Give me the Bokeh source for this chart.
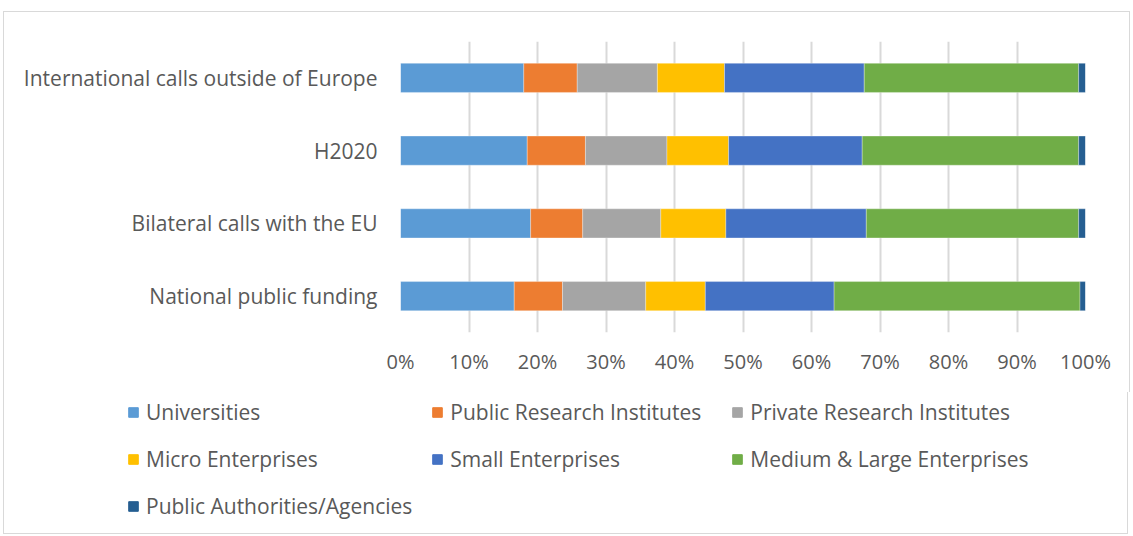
from bokeh.plotting import figure
from bokeh.models import ColumnDataSource, FactorRange, Range1d, Legend, LegendItem, FixedTicker
from bokeh.embed import file_html
from bokeh.resources import INLINE

categories = ["National public funding", "Bilateral calls with the EU", "H2020",
              "International calls outside of Europe"]
series_names = ["Universities", "Public Research Institutes", "Private Research Institutes",
                "Micro Enterprises", "Small Enterprises", "Medium & Large Enterprises",
                "Public Authorities/Agencies"]
universities = [16.6, 19.0, 18.5, 18.0]
public_research = [7.05, 7.6, 8.5, 7.8]
private_research = [12.15, 11.4, 11.9, 11.7]
micro = [8.7, 9.5, 9.0, 9.8]
small = [18.8, 20.5, 19.5, 20.4]
medium_large = [35.9, 31.0, 31.6, 31.3]
public_authorities = [0.8, 1.0, 1.0, 1.0]
tick_values = [0, 10, 20, 30, 40, 50, 60, 70, 80, 90, 100]
tick_labels = ["0%", "10%", "20%", "30%", "40%", "50%", "60%", "70%", "80%", "90%", "100%"]

colors = ["#5B9BD5", "#ED7D31", "#A5A5A5", "#FFC000", "#4472C4", "#70AD47", "#255E91"]
keys = ["u", "pr", "pv", "mi", "sm", "ml", "pa"]
data = dict(cat=categories, u=universities, pr=public_research, pv=private_research,
            mi=micro, sm=small, ml=medium_large, pa=public_authorities)
source = ColumnDataSource(data)

FONT = "Open Sans"
TXT = "#595959"
BORDER = "1px solid #d9d9d9"

p = figure(width=1125, height=380, y_range=FactorRange(factors=categories),
           x_range=Range1d(0, 100), output_backend="svg", toolbar_location=None,
           min_border_left=396, min_border_top=29, min_border_right=44, min_border_bottom=60,
           frame_width=685, frame_height=291)
p.outline_line_color = None
p.styles = {"border-left": BORDER, "border-right": BORDER, "border-top": BORDER,
            "margin-left": "3px", "margin-top": "11px"}

rs = p.hbar_stack(keys, y="cat", height=0.4, color=colors, source=source,
                  line_color="white", line_width=0.5, line_alpha=0.6)

p.xaxis.ticker = FixedTicker(ticks=tick_values)
p.xaxis.major_label_overrides = {v: l for v, l in zip(tick_values, tick_labels)}
p.xaxis.axis_line_color = None
p.xaxis.major_tick_line_color = None
p.xaxis.minor_tick_line_color = None
p.xaxis.major_label_text_font = FONT
p.xaxis.major_label_text_font_size = "20px"
p.xaxis.major_label_text_color = TXT
p.xaxis.major_label_standoff = 9

p.yaxis.axis_line_color = None
p.yaxis.major_tick_line_color = None
p.yaxis.major_label_text_font = FONT
p.yaxis.major_label_text_font_size = "21px"
p.yaxis.major_label_text_color = TXT
p.yaxis.major_label_standoff = 17

p.ygrid.grid_line_color = None
p.xgrid.grid_line_color = "#d9d9d9"
p.xgrid.grid_line_width = 2
p.xgrid.ticker = FixedTicker(ticks=tick_values)

# legend figure below (separate root, frame covers the whole figure)
p2 = figure(width=1125, height=142, x_range=Range1d(0, 1), y_range=Range1d(0, 1),
            output_backend="svg", toolbar_location=None, x_axis_type=None, y_axis_type=None,
            min_border=0, min_border_left=0, min_border_right=0, min_border_top=0,
            min_border_bottom=0)
p2.outline_line_color = None
p2.grid.grid_line_color = None
p2.styles = {"border-left": BORDER, "border-right": BORDER, "border-bottom": BORDER,
             "margin-left": "3px"}
# legend-only swatch renderers, placed outside the visible range
swatches = [p2.hbar(y=[-5], right=[1], height=0.4, color=c) for c in colors]

items = [LegendItem(label=n, renderers=[r]) for n, r in zip(series_names, swatches)]
legend = Legend(items=items, orientation="horizontal", ncols=3, location=(123, 14),
                label_text_font=FONT, label_text_font_size="21px", label_text_color=TXT,
                glyph_width=12, glyph_height=12, label_standoff=7, label_width=262,
                label_height=27, spacing=19, padding=0, margin=0,
                border_line_color=None, background_fill_alpha=0)
p2.add_layout(legend, "center")

open("out.html", "w").write(file_html([p, p2], INLINE))
